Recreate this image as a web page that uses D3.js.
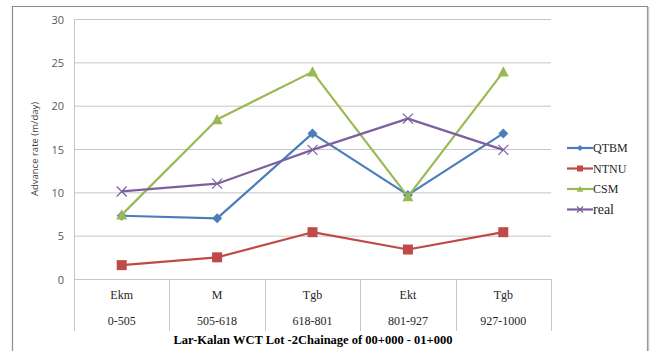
<!DOCTYPE html>
<html>
<head>
<meta charset="utf-8">
<script src="https://cdn.jsdelivr.net/npm/d3@7/dist/d3.min.js"></script>
<style>
  html, body { margin: 0; padding: 0; background: #fff; }
  svg { display: block; }
</style>
</head>
<body>
<svg id="chart" width="651" height="351"></svg>
<script>
// Ground groups along the Lar-Kalan tunnel and their chainage ranges
const groups = ["Ekm", "M", "Tgb", "Ekt", "Tgb"];
const chainages = ["0-505", "505-618", "618-801", "801-927", "927-1000"];

// Advance rate (m/day) per prediction model and the observed rate
const qtbm = [7.3, 7.0, 16.8, 9.7, 16.8];
const ntnu = [1.6, 2.5, 5.4, 3.4, 5.4];
const csm  = [7.4, 18.4, 23.9, 9.5, 23.9];
const real = [10.1, 11.0, 14.9, 18.5, 14.9];

const yTicks = [0, 5, 10, 15, 20, 25, 30];

const series = [
  { name: "QTBM", values: qtbm, color: "#4a7ebb", marker: "diamond" },
  { name: "NTNU", values: ntnu, color: "#be4b48", marker: "square" },
  { name: "CSM",  values: csm,  color: "#98b954", marker: "triangle" },
  { name: "real", values: real, color: "#7d60a0", marker: "cross" }
];

const SERIF = "'Liberation Serif', 'DejaVu Serif', serif";
const SANS = "'Open Sans', 'DejaVu Sans', sans-serif";

const svg = d3.select("#chart");
const m = { left: 74, right: 551, top: 19, bottom: 279 };

// Outer frame
svg.append("path")
  .attr("d", "M12.5,351 V6.5 H647.5 V351")
  .attr("fill", "none").attr("stroke", "#8c8c8c").attr("stroke-width", 1.2);
svg.append("line").attr("x1", 648.5).attr("x2", 648.5).attr("y1", 7).attr("y2", 351)
  .attr("stroke", "#c8c8c8").attr("stroke-width", 1.5);

const x = d3.scaleBand().domain(d3.range(groups.length)).range([m.left, m.right]);
const y = d3.scaleLinear().domain([0, 30]).range([m.bottom, m.top]);

// Horizontal gridlines
svg.append("g").selectAll("line").data(yTicks).join("line")
  .attr("x1", m.left).attr("x2", m.right)
  .attr("y1", d => y(d) + 0.5).attr("y2", d => y(d) + 0.5)
  .attr("stroke", "#c6c6c6").attr("stroke-width", 1);

// Left axis line
svg.append("line").attr("x1", m.left + 0.5).attr("x2", m.left + 0.5)
  .attr("y1", m.top).attr("y2", m.bottom).attr("stroke", "#c6c6c6");

// Y axis tick labels
const yAxis = d3.axisLeft(y).tickValues(yTicks).tickSize(0).tickPadding(10);
const gy = svg.append("g").attr("transform", `translate(${m.left},0.5)`).call(yAxis);
gy.select(".domain").remove();
gy.selectAll("text")
  .style("font-family", SANS).style("font-size", "11px").attr("fill", "#595959");

// Y axis title
svg.append("text")
  .attr("transform", `translate(38,${(m.top + m.bottom) / 2}) rotate(-90)`)
  .attr("text-anchor", "middle")
  .style("font-family", SANS).style("font-size", "9.5px").attr("fill", "#404040")
  .text("Advance rate (m/day)");

// Category table below the plot: vertical separators and two label rows
const bounds = d3.range(groups.length + 1).map(i => i < groups.length ? x(i) : m.right);
svg.append("g").selectAll("line").data(bounds).join("line")
  .attr("x1", d => Math.round(d) + 0.5).attr("x2", d => Math.round(d) + 0.5)
  .attr("y1", m.bottom).attr("y2", 331)
  .attr("stroke", "#c6c6c6");

svg.append("g").selectAll("text").data(groups).join("text")
  .attr("x", (d, i) => x(i) + x.bandwidth() / 2).attr("y", 299)
  .attr("text-anchor", "middle")
  .style("font-family", SERIF).style("font-size", "12px").attr("fill", "#262626").text(d => d);
svg.append("g").selectAll("text").data(chainages).join("text")
  .attr("x", (d, i) => x(i) + x.bandwidth() / 2).attr("y", 325)
  .attr("text-anchor", "middle")
  .style("font-family", SERIF).style("font-size", "12px").attr("fill", "#262626").text(d => d);

// X axis title
svg.append("text")
  .attr("x", 313).attr("y", 344)
  .attr("text-anchor", "middle")
  .style("font-family", SERIF).style("font-size", "12.5px").style("font-weight", "bold")
  .attr("fill", "#000")
  .text("Lar-Kalan WCT Lot -2Chainage of 00+000 - 01+000");

// Marker drawing helper
function drawMarker(g, type, color, size) {
  const h = size / 2;
  if (type === "diamond") {
    g.append("path").attr("d", `M0,${-h}L${h},0L0,${h}L${-h},0Z`).attr("fill", color);
  } else if (type === "square") {
    g.append("rect").attr("x", -h).attr("y", -h)
      .attr("width", size).attr("height", size).attr("fill", color);
  } else if (type === "triangle") {
    g.append("path").attr("d", `M0,${-h}L${h},${h * 0.85}L${-h},${h * 0.85}Z`).attr("fill", color);
  } else {
    g.append("path").attr("d", `M${-h},${-h}L${h},${h}M${-h},${h}L${h},${-h}`)
      .attr("stroke", color).attr("stroke-width", 1.2).attr("fill", "none");
  }
}

const line = d3.line()
  .x((d, i) => x(i) + x.bandwidth() / 2)
  .y(d => y(d));

const sizes = { diamond: 10, square: 10, triangle: 11, cross: 10 };

series.forEach(s => {
  svg.append("path").datum(s.values)
    .attr("d", line)
    .attr("fill", "none").attr("stroke", s.color).attr("stroke-width", 2.2)
    .attr("stroke-linejoin", "round");
  s.values.forEach((v, i) => {
    const g = svg.append("g").attr("transform", `translate(${x(i) + x.bandwidth() / 2},${y(v)})`);
    drawMarker(g, s.marker, s.color, sizes[s.marker]);
  });
});

// Legend
const legend = svg.append("g");
series.forEach((s, i) => {
  const ly = 148 + i * 20.5;
  legend.append("line").attr("x1", 567).attr("x2", 593).attr("y1", ly).attr("y2", ly)
    .attr("stroke", s.color).attr("stroke-width", 2.2);
  const g = legend.append("g").attr("transform", `translate(580,${ly})`);
  drawMarker(g, s.marker, s.color, sizes[s.marker] * 0.6);
  legend.append("text").attr("x", 593).attr("y", ly + 4)
    .style("font-family", SERIF)
    .style("font-size", s.name === "real" ? "14px" : "12px")
    .attr("fill", "#262626").text(s.name);
});
</script>
</body>
</html>
